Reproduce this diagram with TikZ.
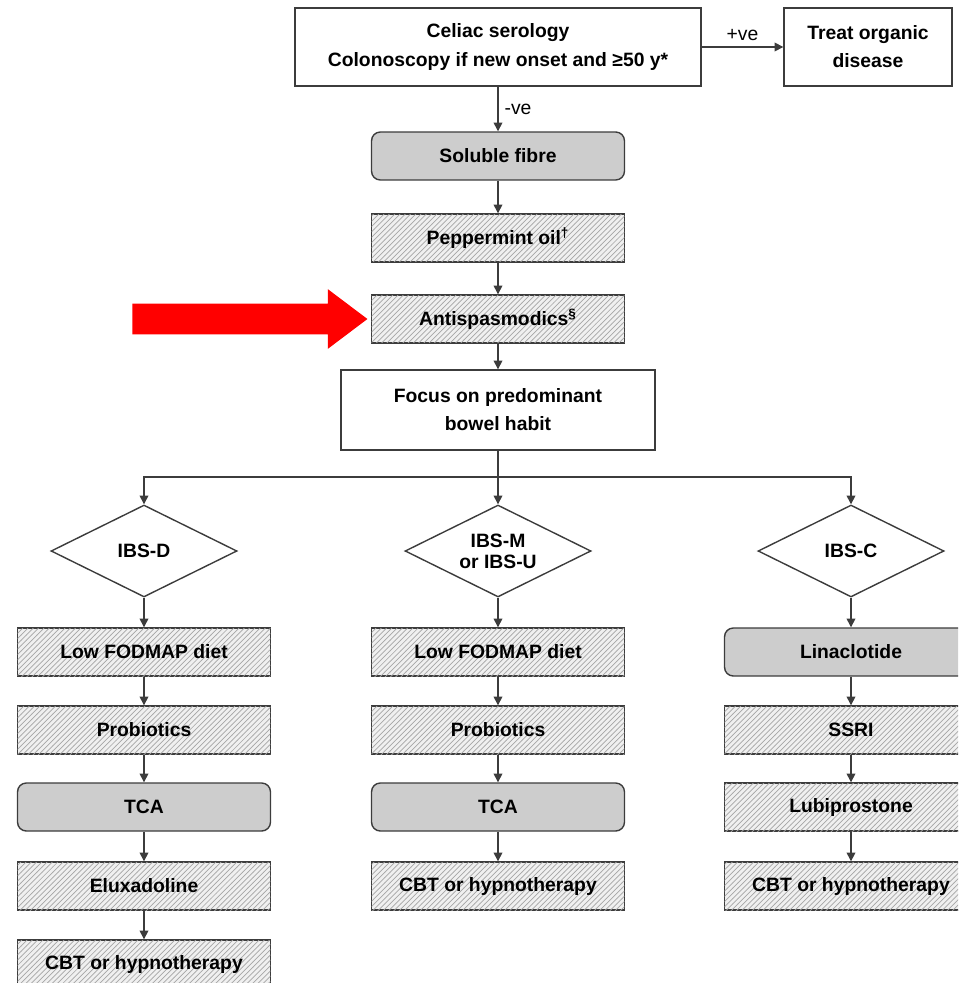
\documentclass[tikz,border=0pt]{standalone}
\usepackage{fontspec}
\setmainfont{Liberation Sans}
\usetikzlibrary{positioning,arrows.meta,shapes.geometric,shapes.arrows,patterns}
\definecolor{edge}{RGB}{60,60,60}
\definecolor{firstline}{RGB}{205,205,205}
\tikzset{%
  stepbox/.style={draw=edge, line width=0.8pt, minimum width=5.06cm, minimum height=0.96cm,
    inner sep=1pt, align=center, font=\bfseries\fontsize{11}{16}\selectfont},
  hatched/.style={stepbox, fill=black!6, postaction={pattern=north east lines, pattern color=black!35}},% second line options
  solid/.style={stepbox, rounded corners=5pt, fill=firstline},% first line options
  plainbox/.style={stepbox, fill=white},
  habit/.style={diamond, draw=edge, line width=0.8pt, aspect=2, inner sep=0pt,
    minimum width=3.72cm, minimum height=1.84cm, align=center,
    font=\bfseries\fontsize{11}{12}\selectfont},% bowel habit subtype
  flow/.style={-{Triangle[length=5pt,width=5pt]}, line width=0.8pt, draw=edge},
  result/.style={font=\fontsize{11}{13}\selectfont},% +ve / -ve
  pointer/.style={single arrow, fill=red, draw=none, inner xsep=0pt, inner ysep=0.3cm,
    minimum height=4.7cm, single arrow head extend=0.29cm, single arrow tip angle=74}
}

\begin{document}
\begin{tikzpicture}[x=0.02cm, y=-0.02cm]
\useasboundingbox (0,0) rectangle (958,983);
\clip (0,0) rectangle (958,983);

% top of the algorithm
\node[plainbox, minimum width=8.12cm, minimum height=1.56cm] (serology) at (498,47)
  {Celiac serology\\Colonoscopy if new onset and ≥50 y*};
\node[plainbox, minimum width=3.36cm, minimum height=1.56cm] (organic) at (868,47)
  {Treat organic\\disease};
\node[solid] (fibre) at (498,156) {Soluble fibre};
\node[hatched] (peppermint) at (498,238) {Peppermint oil\textsuperscript{†}};
\node[hatched] (antisp) at (498,319) {Antispasmodics\textsuperscript{§}};
\node[plainbox, minimum width=6.28cm, minimum height=1.6cm] (focus) at (498,410)
  {Focus on predominant\\bowel habit};
\node[pointer, anchor=tip] (marker) at (368,319) {};

\draw[flow] (serology) -- node[result, above] {+ve} (organic);
\draw[flow] (serology) -- node[result, right] {-ve} (fibre);
\draw[flow] (fibre) -- (peppermint);
\draw[flow] (peppermint) -- (antisp);
\draw[flow] (antisp) -- (focus);

% three subtypes
\coordinate (split) at (498,477);
\node[habit] (ibsd) at (144,551) {IBS-D};
\node[habit] (ibsm) at (498,551) {IBS-M\\or IBS-U};
\node[habit] (ibsc) at (851,551) {IBS-C};

\draw[line width=0.8pt, draw=edge] (focus) -- (split);
\draw[flow] (split) -| (ibsd);
\draw[flow] (split) -- (ibsm);
\draw[flow] (split) -| (ibsc);

% IBS-D
\node[hatched] (d1) at (144,652) {Low FODMAP diet};
\node[hatched] (d2) at (144,730) {Probiotics};
\node[solid] (d3) at (144,807) {TCA};
\node[hatched] (d4) at (144,886) {Eluxadoline};
\node[hatched] (d5) at (144,964) {CBT or hypnotherapy};

% IBS-M / IBS-U
\node[hatched] (m1) at (498,652) {Low FODMAP diet};
\node[hatched] (m2) at (498,730) {Probiotics};
\node[solid] (m3) at (498,807) {TCA};
\node[hatched] (m4) at (498,886) {CBT or hypnotherapy};

% IBS-C
\node[solid] (c1) at (851,652) {Linaclotide};
\node[hatched] (c2) at (851,730) {SSRI};
\node[hatched] (c3) at (851,807) {Lubiprostone};
\node[hatched] (c4) at (851,886) {CBT or hypnotherapy};

\draw[flow] (ibsd) -- (d1);
\draw[flow] (d1) -- (d2);
\draw[flow] (d2) -- (d3);
\draw[flow] (d3) -- (d4);
\draw[flow] (d4) -- (d5);

\draw[flow] (ibsm) -- (m1);
\draw[flow] (m1) -- (m2);
\draw[flow] (m2) -- (m3);
\draw[flow] (m3) -- (m4);

\draw[flow] (ibsc) -- (c1);
\draw[flow] (c1) -- (c2);
\draw[flow] (c2) -- (c3);
\draw[flow] (c3) -- (c4);

\end{tikzpicture}
\end{document}
